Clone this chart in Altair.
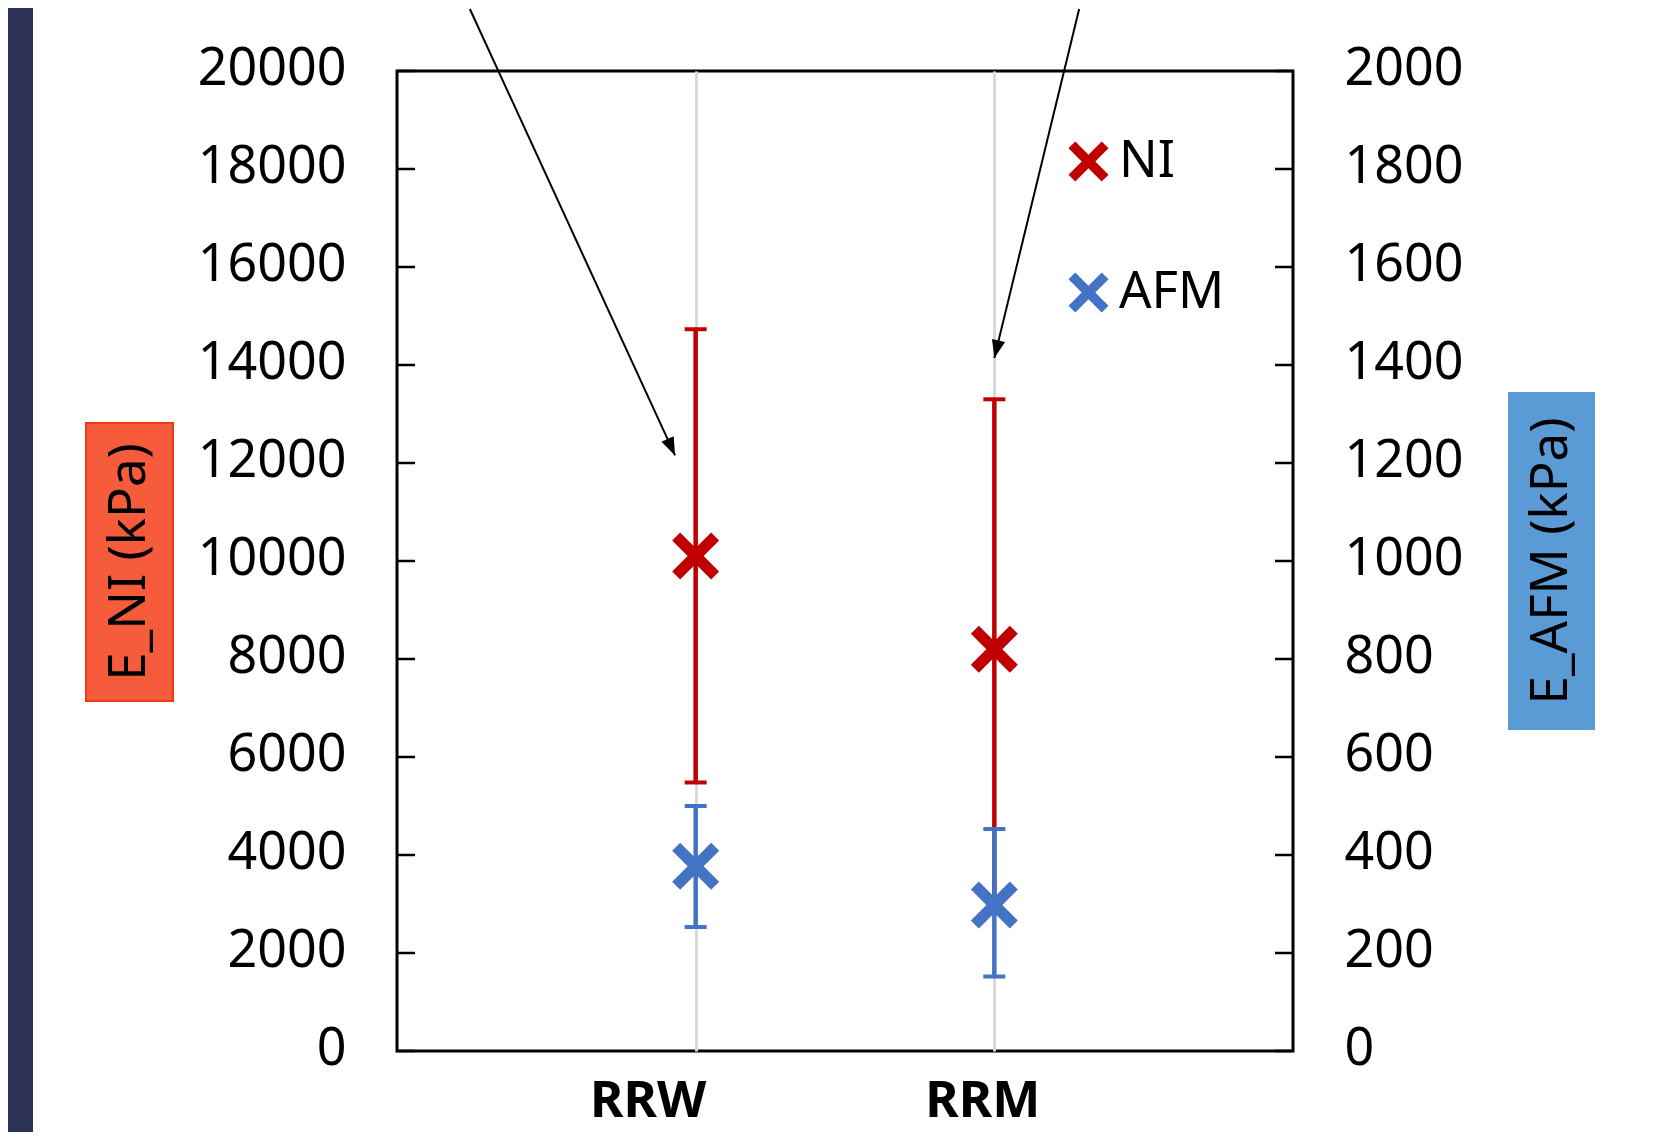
import json
import math
import altair as alt
import pandas as pd

# ---------------- data ----------------
categories = ["RRW", "RRM"]
series_names = ["NI", "AFM"]
ni_mean = [10100, 8200]
ni_low = [5480, 3100]
ni_high = [14730, 13300]
afm_mean = [377, 298]
afm_low = [253, 152]
afm_high = [500, 453]
ni_ticks = [0, 2000, 4000, 6000, 8000, 10000, 12000, 14000, 16000, 18000, 20000]
afm_ticks = [0, 200, 400, 600, 800, 1000, 1200, 1400, 1600, 1800, 2000]
axis_titles = ["E_NI (kPa)", "E_AFM (kPa)"]

# annotation arrows (x on the category position axis 0..3, y in NI units)
arrow_x_start = [0.244, 2.284]
arrow_y_start = [21265, 21265]
arrow_x_end = [0.931, 2.0]
arrow_y_end = [12155, 14143]

# ---------------- layout / style ----------------
W, H = 896, 980
RED, BLUE = "#C00000", "#4472C4"
FONT = "Noto Sans"
FS = 52
X_PATH = ("M-0.66,-1L0,-0.34L0.66,-1L1,-0.66L0.34,0L1,0.66L0.66,1L0,0.34"
          "L-0.66,1L-1,0.66L-0.34,0L-1,-0.66Z")
ARROW_PATH = "M0,0L-0.75,2L0.75,2Z"

pos = [i + 1 for i in range(len(categories))]
ni_df = pd.DataFrame({"cat": categories, "pos": pos, "mean": ni_mean,
                      "low": ni_low, "high": ni_high, "series": series_names[0]})
afm_df = pd.DataFrame({"cat": categories, "pos": pos, "mean": afm_mean,
                       "low": afm_low, "high": afm_high, "series": series_names[1]})

angles = []
for xs, ys, xe, ye in zip(arrow_x_start, arrow_y_start, arrow_x_end, arrow_y_end):
    dx = (xe - xs) * W / 3.0
    dy = -(ye - ys) * H / 20000.0
    n = math.hypot(dx, dy)
    ux, uy = dx / n, dy / n
    angles.append(math.degrees(math.atan2(ux, -uy)) % 360)
arrow_df = pd.DataFrame({"xs": arrow_x_start, "ys": arrow_y_start,
                         "xe": arrow_x_end, "ye": arrow_y_end, "ang": angles})

one = pd.DataFrame({"t": [0]})

x_scale = alt.Scale(domain=[0, 3], nice=False, zero=False)
ni_scale = alt.Scale(domain=[0, 20000], nice=False)
afm_scale = alt.Scale(domain=[0, 2000], nice=False)
color_scale = alt.Scale(domain=series_names, range=[RED, BLUE])

x_axis = alt.Axis(
    values=pos, labelExpr=json.dumps(categories) + "[datum.value - 1]",
    grid=True, gridColor="#D9D9D9", gridWidth=3, domain=False, ticks=False,
    tickSize=0, labelFontSize=51, labelFont=FONT, labelFontWeight="bold",
    labelColor="black", labelPadding=25, labelOverlap=False, title=None,
    labelOffset={"condition": {"test": "datum.value == 1", "value": -48}, "value": -12},
)
legend = alt.Legend(
    orient="none", legendX=666, legendY=65, title=None, symbolType=X_PATH,
    symbolSize=1600, labelFontSize=51, labelFont=FONT, labelColor="black",
    rowPadding=79, labelOffset=5, symbolStrokeWidth=0, padding=0, symbolOpacity=1,
)

# ---------- decorations ----------
strip = alt.Chart(one).mark_rect(color="#2C3255").encode(
    x=alt.value(-389), x2=alt.value(-364), y=alt.value(-63), y2=alt.value(1061))
lbox = alt.Chart(one).mark_rect(fill="#F65B3B", stroke="#EE3A10", strokeWidth=2).encode(
    x=alt.value(-311), x2=alt.value(-224), y=alt.value(352), y2=alt.value(630))
rbox = alt.Chart(one).mark_rect(fill="#5B9BD5").encode(
    x=alt.value(1111), x2=alt.value(1198), y=alt.value(321), y2=alt.value(659))
ltitle = alt.Chart(pd.DataFrame({"t": [axis_titles[0]]})).mark_text(
    angle=270, font=FONT, fontSize=51, align="center", baseline="middle", color="black"
).encode(x=alt.value(-267.5), y=alt.value(491), text="t:N")
rtitle = alt.Chart(pd.DataFrame({"t": [axis_titles[1]]})).mark_text(
    angle=270, font=FONT, fontSize=51, align="center", baseline="middle", color="black"
).encode(x=alt.value(1154.5), y=alt.value(490), text="t:N")

# ---------- NI (left axis) ----------
ni_base = alt.Chart(ni_df)
ni_rule = ni_base.mark_rule(color=RED, strokeWidth=4.5).encode(
    x=alt.X("pos:Q", scale=x_scale, axis=x_axis),
    y=alt.Y("low:Q", scale=ni_scale, axis=alt.Axis(
        values=ni_ticks, orient="left", domain=False, ticks=False, tickSize=0,
        grid=False, labelFontSize=FS, labelFont=FONT, labelColor="black",
        labelPadding=51, labelOffset=-3, title=None, format="d", labelOverlap=False)),
    y2="high:Q",
)
ni_cap_lo = ni_base.mark_tick(color=RED, orient="horizontal", size=22, thickness=4,
                              opacity=1).encode(
    x=alt.X("pos:Q", scale=x_scale), y=alt.Y("low:Q", scale=ni_scale))
ni_cap_hi = ni_base.mark_tick(color=RED, orient="horizontal", size=22, thickness=4,
                              opacity=1).encode(
    x=alt.X("pos:Q", scale=x_scale), y=alt.Y("high:Q", scale=ni_scale))
ni_pts = ni_base.mark_point(shape=X_PATH, size=2209, filled=True, opacity=1, strokeWidth=0).encode(
    x=alt.X("pos:Q", scale=x_scale),
    y=alt.Y("mean:Q", scale=ni_scale),
    color=alt.Color("series:N", scale=color_scale, legend=legend),
)
lticks = alt.Chart(pd.DataFrame({"v": ni_ticks})).mark_rule(color="black", strokeWidth=2.5).encode(
    y=alt.Y("v:Q", scale=ni_scale), x=alt.value(0), x2=alt.value(18))
arrows = alt.Chart(arrow_df).mark_rule(color="black", strokeWidth=2).encode(
    x=alt.X("xs:Q", scale=x_scale), x2="xe:Q",
    y=alt.Y("ys:Q", scale=ni_scale), y2="ye:Q")
heads = alt.Chart(arrow_df).mark_point(shape=ARROW_PATH, size=324, filled=True, opacity=1,
                                       color="black", strokeWidth=0).encode(
    x=alt.X("xe:Q", scale=x_scale),
    y=alt.Y("ye:Q", scale=ni_scale),
    angle=alt.Angle("ang:Q", scale=None))

ni_group = alt.layer(strip, lbox, rbox, ltitle, rtitle, ni_rule, lticks, ni_cap_lo,
                     ni_cap_hi, ni_pts, arrows, heads)

# ---------- AFM (right axis) ----------
afm_base = alt.Chart(afm_df)
afm_rule = afm_base.mark_rule(color=BLUE, strokeWidth=4.5).encode(
    x=alt.X("pos:Q", scale=x_scale),
    y=alt.Y("low:Q", scale=afm_scale, axis=alt.Axis(
        values=afm_ticks, orient="right", domain=False, ticks=False, tickSize=0,
        grid=False, labelFontSize=FS, labelFont=FONT, labelColor="black",
        labelPadding=51, labelOffset=-3, title=None, format="d", labelOverlap=False)),
    y2="high:Q",
)
afm_cap_lo = afm_base.mark_tick(color=BLUE, orient="horizontal", size=22, thickness=4,
                                opacity=1).encode(
    x=alt.X("pos:Q", scale=x_scale), y=alt.Y("low:Q", scale=afm_scale))
afm_cap_hi = afm_base.mark_tick(color=BLUE, orient="horizontal", size=22, thickness=4,
                                opacity=1).encode(
    x=alt.X("pos:Q", scale=x_scale), y=alt.Y("high:Q", scale=afm_scale))
afm_pts = afm_base.mark_point(shape=X_PATH, size=2209, filled=True, opacity=1, strokeWidth=0).encode(
    x=alt.X("pos:Q", scale=x_scale),
    y=alt.Y("mean:Q", scale=afm_scale),
    color=alt.Color("series:N", scale=color_scale, legend=legend),
)
rticks = alt.Chart(pd.DataFrame({"v": afm_ticks})).mark_rule(color="black", strokeWidth=2.5).encode(
    y=alt.Y("v:Q", scale=afm_scale), x=alt.value(W - 18), x2=alt.value(W))

afm_group = alt.layer(afm_rule, rticks, afm_cap_lo, afm_cap_hi, afm_pts)

chart = alt.layer(ni_group, afm_group).resolve_scale(y="independent").properties(
    width=W, height=H, padding=0, background="white"
).configure_view(stroke="black", strokeWidth=3, fill="white")

chart.save("out.html", embed_options={"renderer": "svg", "actions": False})
